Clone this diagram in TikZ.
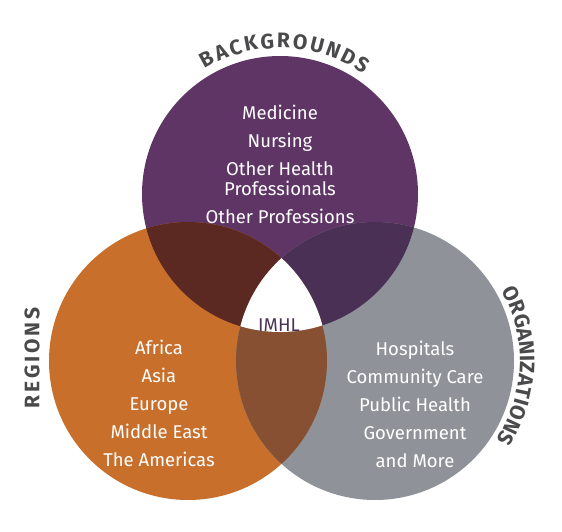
\documentclass[tikz,border=0pt]{standalone}
\usepackage{fontspec}
\setmainfont{Fira Sans}
\usetikzlibrary{decorations.text}
\definecolor{bgpurple}{HTML}{5F3566}
\definecolor{rgorange}{HTML}{C76F2B}
\definecolor{orggray}{HTML}{8F9399}
\definecolor{purpor}{HTML}{5B2822}
\definecolor{purpgray}{HTML}{4B3056}
\definecolor{orgor}{HTML}{875033}
\definecolor{labgray}{HTML}{4A4A4C}
\definecolor{imhlpurple}{HTML}{4B3358}
\newcommand\labfont{\fontsize{21}{21}\selectfont\bfseries\color{labgray}}
\tikzset{item/.style={text=white,align=center,font=\fontsize{18.5}{28}\selectfont},
  arclab/.style={decorate,decoration={text along path,text={|\labfont|#1},text align={fit to path}}}}
\begin{document}
\begin{tikzpicture}[x=1pt,y=1pt]
\useasboundingbox(0,0)rectangle(562,531);
\coordinate(P)at(280,337);
\coordinate(O)at(188,170);
\coordinate(G)at(375,170);
\fill[bgpurple](P)circle[radius=138];
\fill[rgorange](O)circle[radius=139];
\fill[orggray](G)circle[radius=139];
\begin{scope}\clip(P)circle[radius=138];\fill[purpor](O)circle[radius=139];\end{scope}
\begin{scope}\clip(P)circle[radius=138];\fill[purpgray](G)circle[radius=139];\end{scope}
\begin{scope}\clip(O)circle[radius=139];\fill[orgor](G)circle[radius=139];\end{scope}
\begin{scope}\clip(P)circle[radius=138];\clip(O)circle[radius=139];\fill[white](G)circle[radius=139];\end{scope}
\node[item](bglist)at(280,367){Medicine\\Nursing\\Other Health\\[-8pt]Professionals\\Other Professions};
\node[item](rglist)at(159,128){Africa\\Asia\\Europe\\Middle East\\The Americas};
\node[item](orglist)at(415,127){Hospitals\\Community Care\\Public Health\\Government\\and More};
\node[item,text=imhlpurple](imhl)at(279,206){IMHL};
\node[rotate=90,font=\labfont\addfontfeature{LetterSpace=13}](rglab)at(32,173){REGIONS};
\path[arclab=BACKGROUNDS]([shift={(121:146)}]P)arc[start angle=121,end angle=55,radius=146];
\path[arclab=ORGANIZATIONS]([shift={(29:145)}]G)arc[start angle=29,end angle=-33,radius=145];
\end{tikzpicture}
\end{document}
